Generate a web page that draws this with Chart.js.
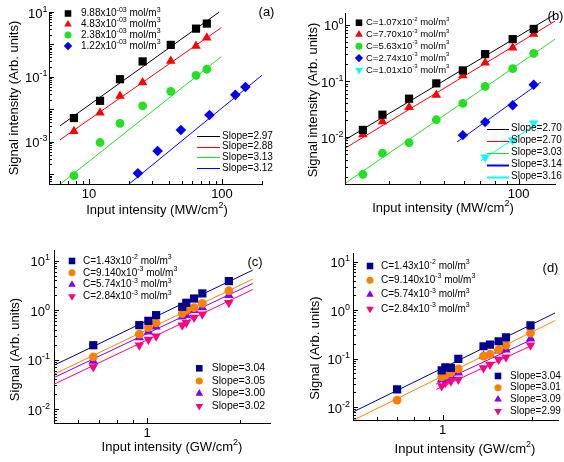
<!DOCTYPE html>
<html>
<head>
<meta charset="utf-8">
<script src="https://cdn.jsdelivr.net/npm/chart.js@4.4.1/dist/chart.umd.min.js"></script>
<style>
  body { margin: 0; background: #fff; }
  .panel { position: absolute; width: 282px; height: 231px; }
</style>
</head>
<body>
<canvas id="chartA" class="panel" width="282" height="231" style="left:0;top:0"></canvas>
<canvas id="chartB" class="panel" width="282" height="231" style="left:282px;top:0"></canvas>
<canvas id="chartC" class="panel" width="282" height="231" style="left:0;top:231px"></canvas>
<canvas id="chartD" class="panel" width="282" height="231" style="left:282px;top:231px"></canvas>
<script>
var FONT = '"Liberation Sans", Arial, sans-serif';
var PW = 282, PH = 231;

// ---- panel (a) : MW/cm2 ----
var aLabels = ['9.88x10^{-03} mol/m^{3}', '4.83x10^{-03} mol/m^{3}', '2.38x10^{-03} mol/m^{3}', '1.22x10^{-03} mol/m^{3}'];
var aSlopes = ['2.97', '2.88', '3.13', '3.12'];
var aInput = [7.7, 12.1, 17.1, 25.3, 41.2, 63.8, 76.9];
var aSig1 = [5.4e-3, 0.0183, 0.085, 0.30, 0.97, 3.07, 4.4];
var aSig2 = [2.1e-3, 7.9e-3, 0.026, 0.067, 0.31, 0.90, 1.62];
var aSig3 = [9e-5, 9.5e-4, 3.7e-3, 0.0128, 0.036, 0.112, 0.172];
var aInput4 = [23.3, 32.8, 49.1, 80.5, 126, 150];
var aSig4 = [1.07e-4, 5.2e-4, 2.3e-3, 6.7e-3, 0.028, 0.049];
var aFitX = [[6.05, 95.5], [6.05, 98.9], [6.05, 98.9], [19, 204]];
var aFitY = [[3.1e-3, 10], [1.15e-3, 3.3], [4.9e-5, 0.42], [4.2e-5, 0.12]];
var aYTicks = [1, -1, -3];
var aXTicks = [10, 100];

// ---- panel (b) : MW/cm2 ----
var bLabels = ['C=1.07x10^{-2} mol/m^{3}', 'C=7.70x10^{-3} mol/m^{3}', 'C=5.63x10^{-3} mol/m^{3}', 'C=2.74x10^{-3} mol/m^{3}', 'C=1.01x10^{-3} mol/m^{3}'];
var bSlopes = ['2.70', '2.70', '3.03', '3.14', '3.16'];
var bInput = [23.6, 28.3, 36.2, 46.6, 59.6, 73.3, 94.6, 114.9];
var bSig1 = [0.0136, 0.0253, 0.0486, 0.0908, 0.154, 0.299, 0.551, 0.835];
var bSig2 = [0.0113, 0.0192, 0.0344, 0.0567, 0.125, 0.211, 0.389, 0.678];
var bSig3 = [2.23e-3, 5.28e-3, 8.1e-3, 0.0206, 0.040, 0.080, 0.165, 0.308];
var bInput4 = [59.6, 73.3, 94.6, 114.9];
var bSig4 = [0.0110, 0.0187, 0.0373, 0.0859];
var bInput5 = [73.3, 94.6, 114.9];
var bSig5 = [4.48e-3, 8.95e-3, 0.0179];
var bFitX = [[20.2, 140], [20.2, 140], [20.2, 140], [56.5, 122.9], [70.5, 116.5]];
var bFitY = [[9.3e-3, 1.52], [6.6e-3, 1.15], [1.58e-3, 0.55], [8.35e-3, 0.096], [3.9e-3, 0.0167]];
var bYTicks = [0, -1, -2];
var bXTicks = [100];

// ---- panel (c) : GW/cm2 ----
var cLabels = ['C=1.43x10^{-2} mol/m^{3}', 'C=9.140x10^{-3} mol/m^{3}', 'C=5.74x10^{-3} mol/m^{3}', 'C=2.84x10^{-3} mol/m^{3}'];
var cSlopes = ['3.04', '3.05', '3.00', '3.02'];
var cInput = [0.67, 0.944, 1.01, 1.07, 1.30, 1.34, 1.42, 1.51, 1.84];
var cSig1 = [0.195, 0.497, 0.608, 0.792, 1.17, 1.41, 1.72, 2.18, 3.87];
var cSig2 = [0.113, 0.327, 0.446, 0.554, 0.855, 1.0, 1.13, 1.37, 2.47];
var cSig3 = [0.094, 0.279, 0.364, 0.459, 0.733, 0.79, 1.0, 1.13, 2.01];
var cSig4 = [0.071, 0.195, 0.254, 0.297, 0.497, 0.553, 0.71, 0.83, 1.41];
var cFitX = [[0.5, 2.2], [0.5, 2.2], [0.5, 2.2], [0.5, 2.2]];
var cFitY = [[0.0767, 6.47], [0.0505, 4.25], [0.0432, 3.47], [0.0316, 2.62]];
var cYTicks = [1, 0, -1, -2];
var cXTicks = [1];

// ---- panel (d) : GW/cm2 ----
var dLabels = cLabels;
var dSlopes = ['3.04', '3.01', '3.09', '2.99'];
var dInput12 = [0.703, 0.992, 1.02, 1.065, 1.128, 1.37, 1.44, 1.54, 1.63, 1.97];
var dSig1 = [0.0231, 0.057, 0.066, 0.064, 0.098, 0.179, 0.194, 0.227, 0.274, 0.484];
var dSig2 = [0.0139, 0.042, 0.0448, 0.0507, 0.0613, 0.112, 0.121, 0.153, 0.188, 0.336];
var dInput34 = [0.992, 1.02, 1.065, 1.128, 1.37, 1.44, 1.54, 1.63, 1.97];
var dSig3 = [0.037, 0.040, 0.0434, 0.0507, 0.114, 0.119, 0.145, 0.151, 0.257];
var dSig4 = [0.027, 0.0316, 0.034, 0.037, 0.064, 0.075, 0.095, 0.106, 0.188];
var dFitX = [[0.5, 2.38], [0.5, 2.38], [0.952, 2.02], [0.952, 2.02]];
var dFitY = [[7.9e-3, 0.867], [5.3e-3, 0.604], [0.030, 0.257], [0.0231, 0.194]];
var dYTicks = [1, 0, -1, -2];
var dXTicks = [1];

function richText(ctx, str, x, y, size, align) {
  var parts = [], re = /\^\{([^}]*)\}/g, last = 0, m;
  while ((m = re.exec(str))) {
    if (m.index > last) parts.push({t: str.slice(last, m.index)});
    parts.push({t: m[1], sup: true});
    last = re.lastIndex;
  }
  if (last < str.length) parts.push({t: str.slice(last)});
  var fBase = size + 'px ' + FONT, fSup = Math.round(size * 0.68) + 'px ' + FONT;
  var w = 0;
  parts.forEach(function(p) { ctx.font = p.sup ? fSup : fBase; p.w = ctx.measureText(p.t).width; w += p.w; });
  var cx = align === 'right' ? x - w : (align === 'center' ? x - w / 2 : x);
  ctx.textAlign = 'left';
  ctx.textBaseline = 'middle';
  parts.forEach(function(p) {
    ctx.font = p.sup ? fSup : fBase;
    ctx.fillText(p.t, cx, p.sup ? y - size * 0.38 : y);
    cx += p.w;
  });
}

function logTicks(min, max) {
  var out = [];
  for (var e = Math.floor(Math.log10(min)); e <= Math.ceil(Math.log10(max)); e++) {
    for (var k = 1; k < 10; k++) {
      var v = k * Math.pow(10, e);
      if (v >= min * 0.999 && v <= max * 1.001) out.push({v: v, major: k === 1});
    }
  }
  return out;
}

function marker(ctx, s, x, y, r) {
  ctx.fillStyle = s.color;
  ctx.strokeStyle = s.color;
  Chart.helpers.drawPoint(ctx, {pointStyle: s.style, radius: r, rotation: s.rot || 0, borderWidth: 0}, x, y);
}

function decorPlugin(p) {
  return {
    id: 'decor',
    afterDraw: function(chart) {
      var ctx = chart.ctx, xs = chart.scales.x, ys = chart.scales.y, a = chart.chartArea;
      ctx.save();
      ctx.strokeStyle = '#000';
      ctx.fillStyle = '#000';
      ctx.lineWidth = 1;
      // inward ticks
      ctx.beginPath();
      logTicks(ys.min, ys.max).forEach(function(t) {
        var py = Math.round(ys.getPixelForValue(t.v)) + 0.5;
        ctx.moveTo(a.left, py);
        ctx.lineTo(a.left + (t.major ? 5 : 3), py);
      });
      logTicks(xs.min, xs.max).forEach(function(t) {
        var px = Math.round(xs.getPixelForValue(t.v)) + 0.5;
        ctx.moveTo(px, a.bottom);
        ctx.lineTo(px, a.bottom - (t.major ? 5 : 3));
      });
      ctx.stroke();

      p.yTicks.forEach(function(e) {
        richText(ctx, '10^{' + e + '}', a.left - p.yLabGap, ys.getPixelForValue(Math.pow(10, e)) + 2, 13, 'right');
      });
      p.xTicks.forEach(function(v) {
        richText(ctx, String(v), xs.getPixelForValue(v), a.bottom + 10.5, 13, 'center');
      });

      // axis titles
      richText(ctx, p.xTitle.text, p.xTitle.x, p.xTitle.y, 13, 'center');
      ctx.save();
      ctx.translate(p.yTitle.x, p.yTitle.y);
      ctx.rotate(-Math.PI / 2);
      richText(ctx, p.yTitle.text, 0, 0, 13, 'center');
      ctx.restore();
      richText(ctx, p.tag.text, p.tag.x, p.tag.y, 13, 'center');

      // concentration legend
      var L = p.leg1;
      L.labels.forEach(function(lab, i) {
        var y = L.y0 + i * L.dy;
        marker(ctx, p.series[i], L.mx, y, p.series[i].r * 0.8);
        ctx.fillStyle = '#000';
        richText(ctx, lab, L.tx, y, L.size, 'left');
      });

      // slope legend
      var S = p.leg2;
      S.labels.forEach(function(lab, i) {
        var y = S.y0 + i * S.dy;
        if (S.kind === 'line') {
          ctx.strokeStyle = p.series[i].color;
          ctx.lineWidth = (S.widths && S.widths[i]) || 1;
          ctx.beginPath();
          ctx.moveTo(S.x0, Math.round(y) + 0.5);
          ctx.lineTo(S.x1, Math.round(y) + 0.5);
          ctx.stroke();
        } else {
          marker(ctx, p.series[i], S.mx, y, p.series[i].r * 0.8);
        }
        ctx.fillStyle = '#000';
        richText(ctx, 'Slope=' + lab, S.tx, y, S.size, 'left');
      });
      ctx.restore();
    }
  };
}

function pts(xs, ys) {
  return xs.map(function(x, i) { return {x: x, y: ys[i]}; });
}

function makePanel(p) {
  var ds = [];
  p.series.forEach(function(s) {
    ds.push({
      data: pts(s.x, s.y), showLine: false,
      pointStyle: s.style, pointRadius: s.r, pointRotation: s.rot || 0,
      pointBackgroundColor: s.color, pointBorderColor: s.color, pointBorderWidth: 0
    });
  });
  p.fitX.forEach(function(fx, i) {
    ds.push({
      data: pts(fx, p.fitY[i]), showLine: true, pointRadius: 0,
      borderColor: p.series[i].color, borderWidth: 1
    });
  });
  new Chart(document.getElementById(p.id), {
    type: 'scatter',
    data: {datasets: ds},
    options: {
      responsive: false, animation: false, devicePixelRatio: 1,
      layout: {padding: {left: 0, top: p.area.t, right: PW - p.area.r, bottom: 0}},
      plugins: {legend: {display: false}, tooltip: {enabled: false}},
      scales: {
        x: {
          type: 'logarithmic', min: p.xRange[0], max: p.xRange[1],
          grid: {display: false}, border: {display: true, color: '#000', width: 1},
          ticks: {display: false},
          afterFit: function(s) { s.height = PH - p.area.b; }
        },
        y: {
          type: 'logarithmic', min: p.yRange[0], max: p.yRange[1],
          grid: {display: false}, border: {display: true, color: '#000', width: 1},
          ticks: {display: false},
          afterFit: function(s) { s.width = p.area.l; }
        }
      }
    },
    plugins: [decorPlugin(p)]
  });
}

var BLACK = '#000000', RED = '#ff0000', GREEN = '#22e022', BLUE = '#0000ff', CYAN = '#00ffff';
var NAVY = '#000090', ORANGE = '#ff8000', VIOLET = '#8000ff', PINK = '#ff0080';

makePanel({
  id: 'chartA', area: {l: 49, r: 262, t: 12, b: 184},
  xRange: [5, 200], yRange: [5e-5, 10], yTicks: aYTicks, xTicks: aXTicks, yLabGap: 1.5,
  series: [
    {x: aInput, y: aSig1, style: 'rect', color: BLACK, r: 5.8},
    {x: aInput, y: aSig2, style: 'triangle', color: RED, r: 5.5},
    {x: aInput, y: aSig3, style: 'circle', color: GREEN, r: 4.4},
    {x: aInput4, y: aSig4, style: 'rectRot', color: BLUE, r: 5.3}
  ],
  fitX: aFitX, fitY: aFitY,
  leg1: {mx: 68, tx: 81, y0: 13.5, dy: 10.8, size: 10, labels: aLabels},
  leg2: {kind: 'line', x0: 197, x1: 220, tx: 222, y0: 136, dy: 10.7, size: 10, labels: aSlopes},
  tag: {text: '(a)', x: 266.5, y: 12},
  yTitle: {text: 'Signal intensity (Arb. units)', x: 14, y: 98},
  xTitle: {text: 'Input intensity (MW/cm^{2})', x: 157, y: 210}
});

makePanel({
  id: 'chartB', area: {l: 63, r: 273, t: 13, b: 184},
  xRange: [20, 140], yRange: [1.5e-3, 1.6], yTicks: bYTicks, xTicks: bXTicks, yLabGap: 1.5,
  series: [
    {x: bInput, y: bSig1, style: 'rect', color: BLACK, r: 5.8},
    {x: bInput, y: bSig2, style: 'triangle', color: RED, r: 5.5},
    {x: bInput, y: bSig3, style: 'circle', color: GREEN, r: 4.4},
    {x: bInput4, y: bSig4, style: 'rectRot', color: BLUE, r: 5.2},
    {x: bInput5, y: bSig5, style: 'triangle', rot: 180, color: CYAN, r: 5.5}
  ],
  fitX: bFitX, fitY: bFitY,
  leg1: {mx: 77, tx: 84, y0: 22.7, dy: 11.8, size: 9.5, labels: bLabels},
  leg2: {kind: 'line', x0: 205, x1: 227, tx: 229, y0: 128.5, dy: 12, size: 10, labels: bSlopes, widths: [1, 1, 1, 2, 2]},
  tag: {text: '(b)', x: 273.5, y: 16.7},
  yTitle: {text: 'Signal intensity (Arb. units)', x: 31.7, y: 100},
  xTitle: {text: 'Input intensity (MW/cm^{2})', x: 161, y: 208}
});

makePanel({
  id: 'chartC', area: {l: 54, r: 270, t: 19, b: 192},
  xRange: [0.5, 2.5], yRange: [5.2e-3, 16.5], yTicks: cYTicks, xTicks: cXTicks, yLabGap: 4,
  series: [
    {x: cInput, y: cSig1, style: 'rect', color: NAVY, r: 5.8},
    {x: cInput, y: cSig2, style: 'circle', color: ORANGE, r: 4.4},
    {x: cInput, y: cSig3, style: 'triangle', color: VIOLET, r: 5.5},
    {x: cInput, y: cSig4, style: 'triangle', rot: 180, color: PINK, r: 5.5}
  ],
  fitX: cFitX, fitY: cFitY,
  leg1: {mx: 72, tx: 83, y0: 30, dy: 11.8, size: 10, labels: cLabels},
  leg2: {kind: 'marker', mx: 199.3, tx: 211.7, y0: 137.3, dy: 12.6, size: 10.5, labels: cSlopes},
  tag: {text: '(c)', x: 255, y: 31.7},
  yTitle: {text: 'Signal (Arb. units)', x: 15, y: 118.5},
  xTitle: {text: 'Input intensity (GW/cm^{2})', x: 172, y: 216.7}
});

makePanel({
  id: 'chartD', area: {l: 71, r: 281, t: 22, b: 189},
  xRange: [0.5, 2.44], yRange: [5.4e-3, 15], yTicks: dYTicks, xTicks: dXTicks, yLabGap: 3,
  series: [
    {x: dInput12, y: dSig1, style: 'rect', color: NAVY, r: 5.8},
    {x: dInput12, y: dSig2, style: 'circle', color: ORANGE, r: 4.4},
    {x: dInput34, y: dSig3, style: 'triangle', color: VIOLET, r: 5.5},
    {x: dInput34, y: dSig4, style: 'triangle', rot: 180, color: PINK, r: 5.5}
  ],
  fitX: dFitX, fitY: dFitY,
  leg1: {mx: 88, tx: 99, y0: 35, dy: 14.3, size: 10, labels: dLabels},
  leg2: {kind: 'marker', mx: 216, tx: 228, y0: 145, dy: 11.7, size: 10, labels: dSlopes},
  tag: {text: '(d)', x: 268.5, y: 37},
  yTitle: {text: 'Signal (Arb. units)', x: 33.3, y: 117},
  xTitle: {text: 'Input intensity (GW/cm^{2})', x: 183, y: 218.3}
});
</script>
</body>
</html>
